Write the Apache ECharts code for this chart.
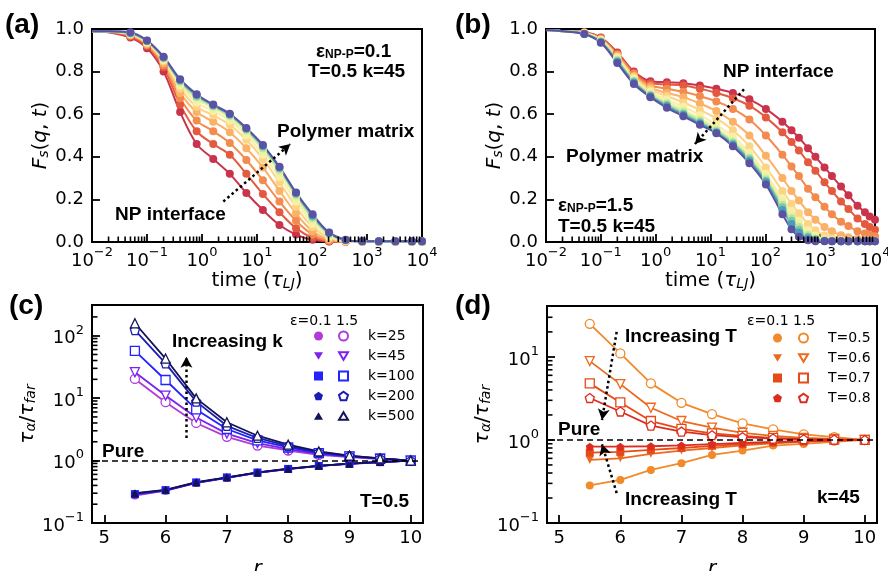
<!DOCTYPE html>
<html>
<head>
<meta charset="utf-8">
<script src="https://cdn.jsdelivr.net/npm/echarts@6/dist/echarts.min.js"></script>
<style>
  html, body { margin: 0; padding: 0; background: #fff; }
  #chart { width: 888px; height: 571px; }
</style>
</head>
<body>
<div id="chart"></div>
<script>
// ---- data ----
// panel (a): eps=0.1, times in tau_LJ
const timesA = [0.01, 0.02, 0.05, 0.1, 0.2, 0.4, 0.8, 1.6, 3.2, 6.4, 12.8, 25.6, 51.2, 102.4, 204.8, 409.6, 819.2, 1638.4, 3276.8, 6553.6, 10000];
const fsA0 = [0.99, 0.985, 0.96, 0.91, 0.80, 0.61, 0.46, 0.39, 0.32, 0.23, 0.15, 0.08, 0.035, 0.01, 0.002, 0.001, 0.001, 0.001, 0.001, 0.001, 0.001];
const fsA1 = [0.99, 0.986, 0.965, 0.92, 0.82, 0.645, 0.52, 0.46, 0.41, 0.32, 0.225, 0.14, 0.065, 0.02, 0.004, 0.001, 0.001, 0.001, 0.001, 0.001, 0.001];
const fsA2 = [0.99, 0.987, 0.97, 0.925, 0.83, 0.675, 0.57, 0.52, 0.465, 0.385, 0.29, 0.19, 0.10, 0.035, 0.007, 0.002, 0.001, 0.001, 0.001, 0.001, 0.001];
const fsA3 = [0.99, 0.988, 0.972, 0.93, 0.84, 0.70, 0.61, 0.565, 0.515, 0.44, 0.35, 0.24, 0.135, 0.05, 0.012, 0.002, 0.001, 0.001, 0.001, 0.001, 0.001];
const fsA4 = [0.99, 0.988, 0.975, 0.935, 0.85, 0.72, 0.635, 0.595, 0.55, 0.48, 0.39, 0.28, 0.165, 0.07, 0.02, 0.003, 0.002, 0.002, 0.002, 0.002, 0.002];
const fsA5 = [0.99, 0.989, 0.977, 0.937, 0.855, 0.735, 0.655, 0.615, 0.57, 0.50, 0.41, 0.305, 0.19, 0.085, 0.026, 0.004, 0.002, 0.002, 0.002, 0.002, 0.002];
const fsA6 = [0.99, 0.989, 0.978, 0.94, 0.86, 0.745, 0.67, 0.628, 0.583, 0.515, 0.43, 0.325, 0.21, 0.10, 0.033, 0.006, 0.002, 0.002, 0.002, 0.002, 0.002];
const fsA7 = [0.99, 0.989, 0.979, 0.942, 0.862, 0.752, 0.68, 0.636, 0.592, 0.525, 0.44, 0.338, 0.22, 0.112, 0.038, 0.007, 0.003, 0.002, 0.002, 0.002, 0.002];
const fsA8 = [0.99, 0.99, 0.98, 0.944, 0.865, 0.757, 0.686, 0.64, 0.597, 0.53, 0.448, 0.346, 0.227, 0.12, 0.041, 0.008, 0.003, 0.002, 0.002, 0.002, 0.002];
const fsA9 = [0.99, 0.99, 0.981, 0.945, 0.867, 0.76, 0.69, 0.643, 0.60, 0.533, 0.452, 0.35, 0.23, 0.125, 0.043, 0.009, 0.003, 0.003, 0.003, 0.003, 0.003];
const fsA10 = [0.99, 0.99, 0.985, 0.946, 0.87, 0.764, 0.694, 0.645, 0.602, 0.535, 0.455, 0.353, 0.232, 0.13, 0.045, 0.01, 0.003, 0.003, 0.003, 0.004, 0.003];

// panel (b): eps=1.5
const timesB = [0.01, 0.02, 0.05, 0.1, 0.2, 0.4, 0.8, 1.6, 3.2, 6.4, 12.8, 25.6, 51.2, 102.4, 204.8, 300, 409.6, 600, 819.2, 1200, 1638.4, 2400, 3276.8, 4800, 6553.6, 8000, 10000];
const fsB0 = [0.995, 0.99, 0.985, 0.96, 0.89, 0.80, 0.755, 0.75, 0.745, 0.735, 0.72, 0.70, 0.67, 0.625, 0.565, 0.525, 0.49, 0.44, 0.40, 0.35, 0.31, 0.26, 0.22, 0.17, 0.14, 0.12, 0.105];
const fsB1 = [0.995, 0.99, 0.984, 0.958, 0.885, 0.795, 0.745, 0.74, 0.735, 0.72, 0.70, 0.675, 0.64, 0.585, 0.515, 0.47, 0.43, 0.375, 0.335, 0.28, 0.24, 0.19, 0.155, 0.11, 0.085, 0.07, 0.058];
const fsB2 = [0.995, 0.99, 0.983, 0.955, 0.88, 0.79, 0.735, 0.72, 0.705, 0.685, 0.66, 0.625, 0.575, 0.50, 0.41, 0.355, 0.31, 0.25, 0.21, 0.165, 0.13, 0.095, 0.075, 0.05, 0.04, 0.033, 0.027];
const fsB3 = [0.995, 0.99, 0.982, 0.952, 0.875, 0.78, 0.725, 0.70, 0.68, 0.65, 0.615, 0.565, 0.50, 0.405, 0.30, 0.24, 0.195, 0.14, 0.105, 0.07, 0.05, 0.032, 0.022, 0.015, 0.012, 0.01, 0.008];
const fsB4 = [0.995, 0.99, 0.981, 0.95, 0.87, 0.775, 0.715, 0.685, 0.655, 0.62, 0.58, 0.525, 0.45, 0.35, 0.24, 0.18, 0.135, 0.085, 0.055, 0.03, 0.018, 0.01, 0.007, 0.005, 0.004, 0.004, 0.003];
const fsB5 = [0.995, 0.99, 0.98, 0.948, 0.865, 0.768, 0.705, 0.67, 0.635, 0.595, 0.55, 0.495, 0.42, 0.32, 0.205, 0.145, 0.10, 0.055, 0.03, 0.014, 0.008, 0.005, 0.004, 0.003, 0.003, 0.003, 0.003];
const fsB6 = [0.995, 0.99, 0.98, 0.945, 0.86, 0.762, 0.698, 0.66, 0.62, 0.58, 0.535, 0.48, 0.405, 0.305, 0.19, 0.128, 0.085, 0.043, 0.022, 0.01, 0.006, 0.004, 0.003, 0.003, 0.003, 0.003, 0.003];
const fsB7 = [0.995, 0.99, 0.979, 0.943, 0.855, 0.757, 0.692, 0.65, 0.61, 0.57, 0.525, 0.47, 0.395, 0.295, 0.175, 0.113, 0.07, 0.033, 0.016, 0.008, 0.005, 0.004, 0.003, 0.003, 0.003, 0.003, 0.003];
const fsB8 = [0.995, 0.99, 0.978, 0.94, 0.85, 0.752, 0.688, 0.643, 0.602, 0.562, 0.518, 0.463, 0.388, 0.288, 0.163, 0.10, 0.058, 0.025, 0.012, 0.006, 0.004, 0.003, 0.003, 0.003, 0.003, 0.003, 0.003];
const fsB9 = [0.995, 0.99, 0.977, 0.938, 0.845, 0.748, 0.684, 0.637, 0.596, 0.556, 0.513, 0.457, 0.38, 0.28, 0.15, 0.085, 0.045, 0.018, 0.008, 0.005, 0.003, 0.003, 0.003, 0.003, 0.003, 0.003, 0.003];
const fsB10 = [0.995, 0.99, 0.976, 0.935, 0.84, 0.742, 0.68, 0.63, 0.59, 0.55, 0.51, 0.45, 0.37, 0.27, 0.13, 0.06, 0.025, 0.008, 0.004, 0.003, 0.003, 0.003, 0.003, 0.003, 0.003, 0.003, 0.003];

// Spectral-like colours, NP interface (red) -> polymer matrix (purple)
const spectral = ['#c9344c', '#e45a3f', '#f38a4e', '#fbb166', '#fdd485', '#fbeea6', '#e9f4a2', '#bfe3a2', '#7ccaa5', '#4a9cbc', '#5b52a3'];

// panels (c) and (d): tau_alpha / tau_far vs r
const rVals = [5.5, 6.0, 6.5, 7.0, 7.5, 8.0, 8.5, 9.0, 9.5, 10.0];
const kLabels = ['k=25', 'k=45', 'k=100', 'k=200', 'k=500'];
const kColors = ['#b03cd8', '#7b22ec', '#2323ff', '#1c1cb4', '#121258'];
const tauC_lo_k25 = [0.275, 0.33, 0.44, 0.53, 0.64, 0.73, 0.82, 0.885, 0.94, 1.0];
const tauC_lo_k45 = [0.285, 0.33, 0.44, 0.53, 0.635, 0.73, 0.82, 0.885, 0.945, 1.0];
const tauC_lo_k100 = [0.29, 0.335, 0.445, 0.535, 0.64, 0.735, 0.82, 0.89, 0.945, 1.0];
const tauC_lo_k200 = [0.295, 0.335, 0.445, 0.535, 0.64, 0.735, 0.825, 0.89, 0.945, 1.0];
const tauC_lo_k500 = [0.30, 0.34, 0.45, 0.54, 0.645, 0.74, 0.825, 0.89, 0.95, 1.0];
const tauC_hi_k25 = [20.3, 8.6, 4.0, 2.4, 1.74, 1.45, 1.23, 1.14, 1.06, 1.0];
const tauC_hi_k45 = [26, 11.0, 4.9, 2.7, 1.9, 1.52, 1.28, 1.16, 1.07, 1.0];
const tauC_hi_k100 = [57, 19.5, 6.6, 3.2, 2.1, 1.62, 1.32, 1.17, 1.07, 1.0];
const tauC_hi_k200 = [123, 36, 8.8, 3.6, 2.3, 1.7, 1.36, 1.19, 1.08, 1.0];
const tauC_hi_k500 = [158, 43, 9.9, 4.1, 2.5, 1.8, 1.4, 1.2, 1.08, 1.0];

const tLabels = ['T=0.5', 'T=0.6', 'T=0.7', 'T=0.8'];
const tColors = ['#f08a2a', '#ec6a1e', '#e54b19', '#dc2c1f'];
const tauD_lo_T05 = [0.283, 0.33, 0.436, 0.525, 0.66, 0.745, 0.855, 0.895, 0.95, 1.0];
const tauD_lo_T06 = [0.575, 0.60, 0.68, 0.745, 0.80, 0.86, 0.91, 0.95, 0.98, 1.0];
const tauD_lo_T07 = [0.705, 0.72, 0.76, 0.80, 0.85, 0.89, 0.93, 0.96, 0.99, 1.0];
const tauD_lo_T08 = [0.83, 0.83, 0.84, 0.86, 0.89, 0.92, 0.95, 0.97, 0.99, 1.0];
const tauD_hi_T05 = [25, 11, 4.8, 2.8, 2.05, 1.58, 1.34, 1.17, 1.08, 1.0];
const tauD_hi_T06 = [8.9, 4.7, 2.44, 1.69, 1.41, 1.22, 1.12, 1.06, 1.03, 1.0];
const tauD_hi_T07 = [4.8, 2.83, 1.69, 1.36, 1.2, 1.12, 1.06, 1.03, 1.01, 1.0];
const tauD_hi_T08 = [3.2, 2.2, 1.49, 1.26, 1.14, 1.08, 1.04, 1.02, 1.01, 1.0];

// axis tick lists
const fsTicks = [0, 0.2, 0.4, 0.6, 0.8, 1.0];
const minorMult = [2, 3, 4, 5, 6, 7, 8, 9];
const decadesTime = [0.01, 0.1, 1, 10, 100, 1000];
const decadesC = [0.1, 1, 10, 100];
const decadesD = [0.1, 1, 10];

// ---- helpers ----
const FONT = 'DejaVu Sans';
const ANN = 'Liberation Sans';
const SYM = {
  circle: 'circle',
  down: 'path://M-5,-4.3 L5,-4.3 L0,4.3 Z',
  square: 'rect',
  pent: 'path://M0,-5 L4.76,-1.55 L2.94,4.05 L-2.94,4.05 L-4.76,-1.55 Z',
  up: 'path://M0,-4.3 L5,4.3 L-5,4.3 Z'
};
const kSym = [SYM.circle, SYM.down, SYM.square, SYM.pent, SYM.up];
const tSym = [SYM.circle, SYM.down, SYM.square, SYM.pent];

function logLabel(v) {
  const l = Math.log10(v);
  const e = Math.round(l);
  if (Math.abs(l - e) > 1e-6) return '';
  return '{b|10}{s|' + (e < 0 ? '\u2212' + (-e) : e) + '}';
}
const supRich = {
  b: { fontSize: 18, fontFamily: FONT, color: '#000', lineHeight: 24, verticalAlign: 'bottom' },
  s: { fontSize: 13, fontFamily: FONT, color: '#000', lineHeight: 12, verticalAlign: 'top' }
};
const nameRich = {
  n: { fontSize: 20, fontFamily: FONT, color: '#000', lineHeight: 26, verticalAlign: 'bottom' },
  i: { fontSize: 20, fontFamily: FONT, fontStyle: 'italic', color: '#000', lineHeight: 26, verticalAlign: 'bottom' },
  sub: { fontSize: 14, fontFamily: FONT, fontStyle: 'italic', color: '#000', lineHeight: 12, verticalAlign: 'bottom' }
};

const axisLineStyle = { show: true, lineStyle: { color: '#000', width: 2 } };
const tickStyle = { show: true, inside: true, length: 8, lineStyle: { color: '#000', width: 1.8 } };

function fsSeries(idx, times, vals, color) {
  return {
    type: 'line', xAxisIndex: idx, yAxisIndex: idx,
    data: times.map((t, i) => (t < 0.04 ? { value: [t, vals[i]], symbol: 'none' } : [t, vals[i]])),
    smooth: 0.35, symbol: 'circle', symbolSize: 8, showSymbol: true,
    lineStyle: { color: color, width: 2 }, itemStyle: { color: color }, z: 3
  };
}
function tauSeries(idx, name, vals, color, sym, open) {
  return {
    type: 'line', name: name, xAxisIndex: idx, yAxisIndex: idx,
    data: rVals.map((r, i) => [r, vals[i]]),
    symbol: sym, symbolSize: open ? 9 : 8, showSymbol: true,
    lineStyle: { color: color, width: 1.8 },
    itemStyle: open ? { color: '#fff', borderColor: color, borderWidth: 1.3 } : { color: color, borderWidth: 0 },
    z: open ? 4 : 3
  };
}
// short inward minor ticks for the log axes, placed through the axis scale
function minorTicks(idx, vals, fixed, dir) {
  return {
    type: 'custom', coordinateSystem: 'cartesian2d', xAxisIndex: idx, yAxisIndex: idx,
    silent: true, clip: false, z: 8,
    data: vals.map(v => (dir === 'x' ? [v, fixed] : [fixed, v])),
    renderItem: function (params, api) {
      const p = api.coord([api.value(0), api.value(1)]);
      const shape = dir === 'x'
        ? { x1: p[0], y1: p[1], x2: p[0], y2: p[1] - 5.5 }
        : { x1: p[0], y1: p[1], x2: p[0] + 5.5, y2: p[1] };
      return { type: 'line', shape: shape, style: { stroke: '#000', lineWidth: 1.6 } };
    }
  };
}
function arrow(idx, from, to) {
  return {
    type: 'line', xAxisIndex: idx, yAxisIndex: idx, data: [], silent: true,
    markLine: {
      silent: true, symbol: ['none', 'arrow'], symbolSize: [9, 11], animation: false,
      label: { show: false },
      lineStyle: { type: [2.5, 3], color: '#000', width: 2.5 },
      data: [[{ coord: from }, { coord: to }]]
    }
  };
}
function pureLine(idx) {
  return {
    type: 'line', xAxisIndex: idx, yAxisIndex: idx, data: [], silent: true,
    markLine: {
      silent: true, symbol: 'none', animation: false, label: { show: false },
      lineStyle: { type: [6, 4], color: '#000', width: 1.5 },
      data: [{ yAxis: 1 }]
    }
  };
}

const minorTime = [];
decadesTime.forEach(d => minorMult.forEach(m => minorTime.push(d * m)));
const minorC = [];
decadesC.forEach(d => minorMult.forEach(m => { if (d * m < 300) minorC.push(d * m); }));
const minorD = [];
decadesD.forEach(d => minorMult.forEach(m => { if (d * m < 40) minorD.push(d * m); }));

// ---- axes ----
const grids = [
  { left: 92, top: 29, width: 330, height: 213 },
  { left: 546, top: 29, width: 329, height: 213 },
  { left: 92, top: 305, width: 331, height: 218 },
  { left: 547, top: 306, width: 330, height: 217 }
].map(g => Object.assign({
  show: true, borderColor: '#000', borderWidth: 2, backgroundColor: 'transparent',
  containLabel: false, outerBoundsMode: 'none'
}, g));

const timeName = '{n|time (}{i|\u03c4}{sub|LJ}{n|)}';
const fsName = '{i|F}{sub|s}{n|(}{i|q}{n|, }{i|t}{n|)}';
const tauName = '{i|\u03c4}{sub|\u03b1}{n|/}{i|\u03c4}{sub|far}';

function timeAxis(idx) {
  return {
    type: 'log', gridIndex: idx, min: 0.01, max: 10000, logBase: 10,
    axisLine: axisLineStyle, axisTick: tickStyle, splitLine: { show: false },
    axisLabel: { formatter: logLabel, rich: supRich, margin: 4 },
    name: timeName, nameLocation: 'middle', nameGap: 18, nameTextStyle: { rich: nameRich }
  };
}
function fsAxis(idx) {
  return {
    type: 'value', gridIndex: idx, min: fsTicks[0], max: fsTicks[fsTicks.length - 1], interval: 0.2,
    axisLine: axisLineStyle, axisTick: tickStyle, splitLine: { show: false },
    axisLabel: { formatter: v => v.toFixed(1), color: '#000', fontSize: 18, fontFamily: FONT, margin: 8 },
    name: fsName, nameLocation: 'middle', nameGap: 41, nameRotate: 90, nameTextStyle: { rich: nameRich }
  };
}
function rAxis(idx) {
  return {
    type: 'value', gridIndex: idx, min: 4.8, max: 10.2, splitNumber: 5,
    axisLine: axisLineStyle, axisTick: tickStyle, splitLine: { show: false },
    axisLabel: {
      showMinLabel: false, showMaxLabel: false,
      formatter: v => (Math.abs(v - Math.round(v)) < 1e-6 ? String(Math.round(v)) : ''),
      color: '#000', fontSize: 18, fontFamily: FONT, margin: 6
    },
    name: '{i|r}', nameLocation: 'middle', nameGap: 30, nameTextStyle: { rich: nameRich }
  };
}
function tauAxis(idx, max) {
  return {
    type: 'log', gridIndex: idx, min: 0.1, max: max, logBase: 10,
    axisLine: axisLineStyle, axisTick: tickStyle, splitLine: { show: false },
    axisLabel: { formatter: logLabel, rich: supRich, margin: 8, showMaxLabel: false },
    name: tauName, nameLocation: 'middle', nameGap: 43, nameRotate: 90, nameTextStyle: { rich: nameRich }
  };
}

// ---- series ----
const series = [];
[fsA0, fsA1, fsA2, fsA3, fsA4, fsA5, fsA6, fsA7, fsA8, fsA9, fsA10].forEach((v, i) => series.push(fsSeries(0, timesA, v, spectral[i])));
[fsB0, fsB1, fsB2, fsB3, fsB4, fsB5, fsB6, fsB7, fsB8, fsB9, fsB10].forEach((v, i) => series.push(fsSeries(1, timesB, v, spectral[i])));

const cLo = [tauC_lo_k25, tauC_lo_k45, tauC_lo_k100, tauC_lo_k200, tauC_lo_k500];
const cHi = [tauC_hi_k25, tauC_hi_k45, tauC_hi_k100, tauC_hi_k200, tauC_hi_k500];
cLo.forEach((v, i) => series.push(tauSeries(2, '0.1 ' + kLabels[i], v, kColors[i], kSym[i], false)));
cHi.forEach((v, i) => series.push(tauSeries(2, '1.5 ' + kLabels[i], v, kColors[i], kSym[i], true)));

const dLo = [tauD_lo_T05, tauD_lo_T06, tauD_lo_T07, tauD_lo_T08];
const dHi = [tauD_hi_T05, tauD_hi_T06, tauD_hi_T07, tauD_hi_T08];
dLo.forEach((v, i) => series.push(tauSeries(3, '0.1 ' + tLabels[i], v, tColors[i], tSym[i], false)));
dHi.forEach((v, i) => series.push(tauSeries(3, '1.5 ' + tLabels[i], v, tColors[i], tSym[i], true)));

series.push(pureLine(2), pureLine(3));
series.push(
  minorTicks(0, minorTime, 0, 'x'), minorTicks(1, minorTime, 0, 'x'),
  minorTicks(2, minorC, 4.8, 'y'), minorTicks(3, minorD, 4.8, 'y')
);
series.push(
  arrow(0, [2.44, 0.19], [40.4, 0.46]),
  arrow(1, [40.8, 0.717], [5.2, 0.46]),
  arrow(2, [6.34, 2.3], [6.34, 46]),
  arrow(3, [5.94, 20], [5.70, 1.74]),
  arrow(3, [5.94, 0.229], [5.70, 0.887])
);

// ---- legends (c), (d) ----
function legendPair(names, syms, leftA, leftB, top) {
  const base = {
    orient: 'vertical', top: top, itemWidth: 9, itemHeight: 9, itemGap: 4, selectedMode: false, padding: 0,
    textStyle: { fontSize: 14, lineHeight: 16, fontFamily: FONT, color: '#000' }
  };
  return [
    Object.assign({}, base, {
      left: leftA, formatter: () => ' ',
      data: names.map((n, i) => ({ name: '0.1 ' + n, icon: syms[i] }))
    }),
    Object.assign({}, base, {
      left: leftB, formatter: n => n.split(' ')[1],
      textStyle: Object.assign({}, base.textStyle, { padding: [0, 0, 0, 15] }),
      data: names.map((n, i) => ({ name: '1.5 ' + n, icon: syms[i] }))
    })
  ];
}

// ---- annotation text ----
function txt(x, y, text, size) {
  return {
    type: 'text', x: x, y: y, silent: true, z: 10,
    style: { text: text, font: 'bold ' + size + 'px "' + ANN + '"', fill: '#000', verticalAlign: 'middle' }
  };
}
function epsTxt(x, y, val) {
  return {
    type: 'text', x: x, y: y, silent: true, z: 10,
    style: {
      text: '{e|\u03b5}{s|NP-P}{e|=' + val + '}', verticalAlign: 'middle',
      rich: {
        e: { fontSize: 19, fontWeight: 'bold', fontFamily: ANN, fill: '#000', lineHeight: 22, verticalAlign: 'bottom' },
        s: { fontSize: 12, fontWeight: 'bold', fontFamily: ANN, fill: '#000', lineHeight: 10, verticalAlign: 'bottom' }
      }
    }
  };
}
function plainTxt(x, y, text) {
  return {
    type: 'text', x: x, y: y, silent: true, z: 10,
    style: { text: text, font: '14px "' + FONT + '"', fill: '#000', verticalAlign: 'middle' }
  };
}

const graphic = [
  txt(5, 25, '(a)', 28), txt(455, 25, '(b)', 28), txt(9, 306, '(c)', 28), txt(455, 306, '(d)', 28),
  epsTxt(316, 50, '0.1'), txt(308, 72, 'T=0.5 k=45', 19),
  txt(277, 132, 'Polymer matrix', 19), txt(115, 215, 'NP interface', 19),
  txt(723, 72, 'NP interface', 19), txt(566, 157, 'Polymer matrix', 19),
  epsTxt(558, 204, '1.5'), txt(558, 227, 'T=0.5 k=45', 19),
  txt(172, 342, 'Increasing k', 19), txt(102, 452, 'Pure', 19), txt(360, 502, 'T=0.5', 19),
  plainTxt(290, 321, '\u03b5=0.1 1.5'),
  txt(625, 337, 'Increasing T', 19), txt(625, 500, 'Increasing T', 19),
  txt(558, 430, 'Pure', 19), txt(817, 498, 'k=45', 19),
  plainTxt(747, 321, '\u03b5=0.1 1.5')
];

const chart = echarts.init(document.getElementById('chart'), null, { renderer: 'canvas' });
chart.setOption({
  animation: false,
  backgroundColor: '#fff',
  grid: grids,
  xAxis: [timeAxis(0), timeAxis(1), rAxis(2), rAxis(3)],
  yAxis: [fsAxis(0), fsAxis(1), tauAxis(2, 310), tauAxis(3, 41)],
  legend: legendPair(kLabels, kSym, 314, 338, 328).concat(legendPair(tLabels, tSym, 773, 798, 330)),
  graphic: graphic,
  series: series
});
window.addEventListener('resize', chart.resize);
</script>
</body>
</html>
